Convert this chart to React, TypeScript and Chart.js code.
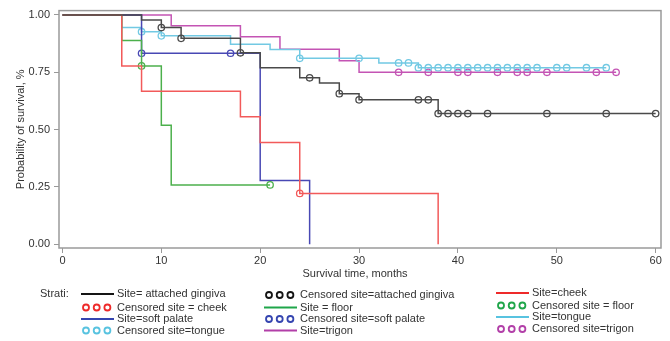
import React, { useEffect, useRef } from "react";
import { Chart, registerables } from "chart.js";

Chart.register(...registerables);

// ---- Data ----
const gingivaTimes = [0, 8, 10, 12, 18, 20, 24, 26, 28, 30, 38, 60];
const gingivaSurv = [1, 0.978, 0.945, 0.898, 0.835, 0.77, 0.726, 0.703, 0.657, 0.63, 0.57, 0.57];
const gingivaCensored = [10, 12, 18, 25, 28, 30, 36, 37, 38, 39, 40, 41, 43, 49, 55, 60];

const cheekTimes = [0, 6, 8, 18, 20, 24, 38];
const cheekSurv = [1, 0.778, 0.667, 0.556, 0.444, 0.222, 0];
const cheekCensored = [24];

const floorTimes = [0, 6, 8, 10, 11, 21];
const floorSurv = [1, 0.889, 0.778, 0.519, 0.259, 0.259];
const floorCensored = [8, 21];

const palateTimes = [0, 8, 20, 25];
const palateSurv = [1, 0.833, 0.278, 0];
const palateCensored = [8, 17];

const tongueTimes = [0, 6, 8, 10, 17, 21, 24, 32, 36, 55];
const tongueSurv = [1, 0.945, 0.927, 0.909, 0.872, 0.849, 0.811, 0.791, 0.77, 0.77];
const tongueCensored = [8, 10, 24, 30, 34, 35, 36, 37, 38, 39, 40, 41, 42, 43, 44, 45, 46, 47, 48, 50, 51, 53, 55];

const trigonTimes = [0, 11, 18, 22, 28, 30, 56];
const trigonSurv = [1, 0.953, 0.905, 0.85, 0.8, 0.75, 0.75];
const trigonCensored = [34, 37, 40, 41, 44, 46, 47, 49, 54, 56];

const xTicks = [0, 10, 20, 30, 40, 50, 60];
const yTicks = [0, 0.25, 0.5, 0.75, 1];

const xTitle = "Survival time, months";
const yTitle = "Probability of survival, %";
const legendTitle = "Strati:";

// legend entries: [label, kind, color key]
const legendCol1 = [
  ["Site= attached gingiva", "line", "gingiva"],
  ["Censored site = cheek", "circles", "cheek"],
  ["Site=soft palate", "line", "palate"],
  ["Censored site=tongue", "circles", "tongue"],
];
const legendCol2 = [
  ["Censored site=attached gingiva", "circles", "gingiva"],
  ["Site = floor", "line", "floor"],
  ["Censored site=soft palate", "circles", "palate"],
  ["Site=trigon", "line", "trigon"],
];
const legendCol3 = [
  ["Site=cheek", "line", "cheek"],
  ["Censored site = floor", "circles", "floor"],
  ["Site=tongue", "line", "tongue"],
  ["Censored site=trigon", "circles", "trigon"],
];

const lineColors: Record<string, string> = {
  gingiva: "#4a4a4a",
  cheek: "#f25a5a",
  floor: "#4cb04c",
  palate: "#4848b4",
  tongue: "#72c9e3",
  trigon: "#c454b4",
};
const legendColors: Record<string, string> = {
  gingiva: "#151515",
  cheek: "#ee2a2a",
  floor: "#1fa64a",
  palate: "#3545b0",
  tongue: "#58c3e0",
  trigon: "#b23fa8",
};

const FONT = "'Liberation Sans', Arial, sans-serif";

function valueAt(times: number[], surv: number[], t: number) {
  let v = surv[0];
  for (let i = 0; i < times.length; i++) if (times[i] <= t) v = surv[i];
  return v;
}

const strata = [
  { key: "gingiva", times: gingivaTimes, surv: gingivaSurv, cens: gingivaCensored },
  { key: "cheek", times: cheekTimes, surv: cheekSurv, cens: cheekCensored },
  { key: "floor", times: floorTimes, surv: floorSurv, cens: floorCensored },
  { key: "palate", times: palateTimes, surv: palateSurv, cens: palateCensored },
  { key: "tongue", times: tongueTimes, surv: tongueSurv, cens: tongueCensored },
  { key: "trigon", times: trigonTimes, surv: trigonSurv, cens: trigonCensored },
];

const decorPlugin = {
  id: "decor",
  afterDraw(chart: any) {
    const { ctx, chartArea } = chart;
    ctx.save();
    // frame
    ctx.strokeStyle = "#9a9a9a";
    ctx.lineWidth = 1.5;
    ctx.strokeRect(chartArea.left, chartArea.top, chartArea.right - chartArea.left, chartArea.bottom - chartArea.top);

    ctx.fillStyle = "#333";
    ctx.font = `11px ${FONT}`;
    ctx.textBaseline = "middle";
    // x title
    ctx.textAlign = "center";
    ctx.fillText(xTitle, (chartArea.left + chartArea.right) / 2 - 5, 274);
    // y title
    ctx.save();
    ctx.translate(21, (chartArea.top + chartArea.bottom) / 2);
    ctx.rotate(-Math.PI / 2);
    ctx.fillText(yTitle, 0, 0);
    ctx.restore();

    // legend
    ctx.textAlign = "left";
    ctx.fillText(legendTitle, 40, 294);
    const cols = [
      { items: legendCol1, x: 81, ys: [294, 307.5, 319, 330.5] },
      { items: legendCol2, x: 264, ys: [295, 307.5, 319, 330.5] },
      { items: legendCol3, x: 496, ys: [293, 305.5, 317, 329] },
    ];
    for (const col of cols) {
      col.items.forEach((it, i) => {
        const [label, kind, key] = it;
        const y = col.ys[i];
        const c = legendColors[key];
        if (kind === "line") {
          ctx.strokeStyle = c;
          ctx.lineWidth = 2;
          ctx.beginPath();
          ctx.moveTo(col.x, y);
          ctx.lineTo(col.x + 33, y);
          ctx.stroke();
        } else {
          ctx.strokeStyle = c;
          ctx.lineWidth = 1.8;
          for (let k = 0; k < 3; k++) {
            ctx.beginPath();
            ctx.arc(col.x + 5 + k * 10.7, y, 3, 0, Math.PI * 2);
            ctx.stroke();
          }
        }
        ctx.fillStyle = "#333";
        ctx.fillText(label, col.x + 36, y);
      });
    }
    ctx.restore();
  },
};

export default function App() {
  const ref = useRef<HTMLCanvasElement | null>(null);
  useEffect(() => {
    if (!ref.current) return;
    const datasets: any[] = [];
    for (const s of strata) {
      datasets.push({
        type: "line",
        data: s.times.map((t, i) => ({ x: t, y: s.surv[i] })),
        borderColor: lineColors[s.key],
        borderWidth: 1.5,
        pointRadius: 0,
        stepped: "before",
        showLine: true,
        fill: false,
      });
      datasets.push({
        type: "scatter",
        data: s.cens.map((t) => ({ x: t, y: valueAt(s.times, s.surv, t) })),
        borderColor: lineColors[s.key],
        backgroundColor: "rgba(0,0,0,0)",
        borderWidth: 1.3,
        pointRadius: 3.2,
        pointStyle: "circle",
        showLine: false,
      });
    }
    const chart = new Chart(ref.current, {
      type: "scatter",
      data: { datasets },
      options: {
        animation: false,
        responsive: false,
        maintainAspectRatio: false,
        devicePixelRatio: 1,
        layout: { padding: { top: 10, right: 9, left: 0, bottom: 0 } },
        plugins: { legend: { display: false }, tooltip: { enabled: false } },
        scales: {
          x: {
            type: "linear",
            min: -0.35,
            max: 60.54,
            afterFit: (s: any) => { s.height = 93; },
            afterBuildTicks: (s: any) => { s.ticks = xTicks.map((v) => ({ value: v })); },
            grid: { display: true, drawOnChartArea: false, drawTicks: true, tickLength: 5, color: "#999" },
            border: { display: false },
            ticks: { autoSkip: false, maxRotation: 0, padding: 1, color: "#333", font: { family: FONT, size: 11 } },
          },
          y: {
            type: "linear",
            min: -0.016,
            max: 1.019,
            afterFit: (s: any) => { s.width = 59; },
            afterBuildTicks: (s: any) => { s.ticks = yTicks.map((v) => ({ value: v })); },
            grid: { display: true, drawOnChartArea: false, drawTicks: true, tickLength: 5, color: "#999" },
            border: { display: false },
            ticks: {
              autoSkip: false,
              padding: 4,
              color: "#333",
              font: { family: FONT, size: 11 },
              callback: (v: any) => Number(v).toFixed(2),
            },
          },
        },
      } as any,
      plugins: [decorPlugin],
    });
    return () => chart.destroy();
  }, []);
  return (
    <div style={{ position: "fixed", left: 0, top: 0, width: 670, height: 341, background: "#fff" }}>
      <canvas ref={ref} width={670} height={341} style={{ width: 670, height: 341, display: "block" }} />
    </div>
  );
}
